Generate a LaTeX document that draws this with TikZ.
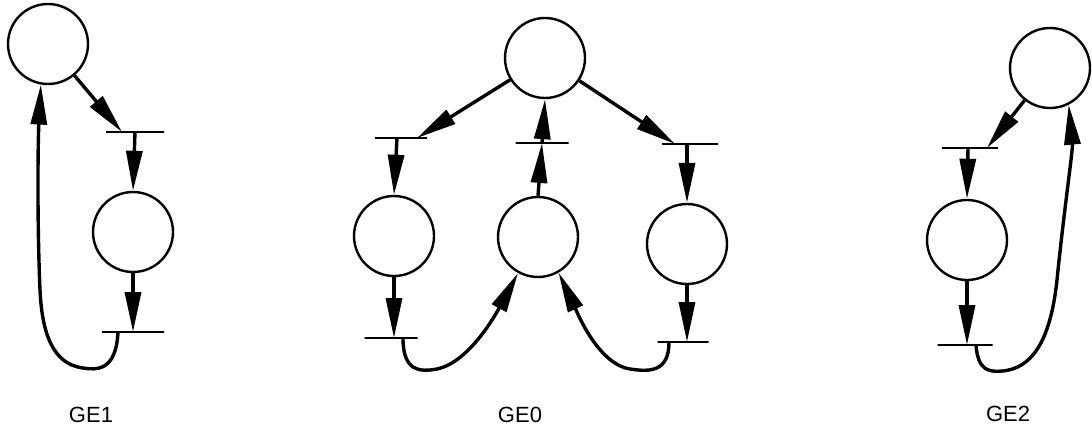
\documentclass[tikz,border=0pt]{standalone}
\usepackage{fontspec}
\setmainfont{Liberation Sans}
\usetikzlibrary{arrows.meta,calc}
\begin{document}
\begin{tikzpicture}[x=1pt,y=-1pt,
  place/.style={circle,draw,line width=2.4pt,minimum size=80pt,inner sep=0pt},
  tbar/.style={draw,line width=2.8pt,minimum height=0pt,inner sep=0pt,minimum width=#1},
  tbar/.default=56pt,
  arc/.style={line width=3.4pt,-{Triangle[length=40pt,width=16pt]}},
  lbl/.style={font=\fontsize{22}{22}\selectfont,inner sep=0pt}]
\useasboundingbox (0,0) rectangle (1092,431);
% ---------- GE1 ----------
\node[place] (p1a) at (48,44) {};
\node[tbar=58pt] (t1a) at (135,132) {};
\node[place] (p1b) at (133,232) {};
\node[tbar=62pt] (t1b) at (133,332) {};
\draw[arc] (p1a) -- ($(t1a.center)+(-13,0)$);
\draw[arc] (t1a.center) -- (p1b.north);
\draw[arc] (p1b.south) -- (t1b.center);
\draw[arc] ($(t1b.center)+(-15,0)$) .. controls (116,372) and (96,370) .. (83,368)
  .. controls (52,364) and (42,332) .. (40,290)
  .. controls (37,220) and (38,140) .. (p1a.-100);
\node[lbl] (l1) at (91,415) {GE1};
% ---------- GE0 ----------
\node[place] (p0t) at (545,58) {};
\node[tbar=52pt] (t0l) at (401,138) {};
\node[tbar=53pt] (t0m) at (542,143) {};
\node[tbar=56pt] (t0r) at (690,144) {};
\node[place] (p0l) at (394,236) {};
\node[place] (p0m) at (538,237) {};
\node[place] (p0r) at (687,244) {};
\node[tbar=53pt] (t0l2) at (391,338) {};
\node[tbar=51pt] (t0r2) at (683,342) {};
\draw[arc] (p0t) -- ($(t0l.center)+(16,0)$);
\draw[arc] (p0t) -- ($(t0r.center)+(-15,0)$);
\draw[arc] ($(t0l.center)+(-4,0)$) -- (p0l.north);
\draw[arc] ($(t0r.center)+(-3,0)$) -- (p0r.north);
\draw[arc] (p0l.south) -- ($(t0l2.center)+(3,0)$);
\draw[arc] (p0r.south) -- ($(t0r2.center)+(4,0)$);
\draw[arc] (p0m.north) -- (t0m.center);
\draw[arc] (t0m.center) -- (p0t.south);
\draw[arc] ($(t0l2.center)+(12,0)$) .. controls (403,372) and (420,372) .. (437,369)
  .. controls (470,362) and (497,312) .. (p0m.-119);
\draw[arc] ($(t0r2.center)+(-14,0)$) .. controls (669,372) and (650,372) .. (630,369)
  .. controls (598,364) and (577,312) .. (p0m.-60);
\node[lbl] (l0) at (520,415) {GE0};
% ---------- GE2 ----------
\node[place] (p2t) at (1050,68) {};
\node[tbar=56pt] (t2a) at (970,148) {};
\node[place] (p2b) at (967,240) {};
\node[tbar=55pt] (t2b) at (965,345) {};
\draw[arc] (p2t) -- ($(t2a.center)+(17,0)$);
\draw[arc] ($(t2a.center)+(-2,0)$) -- (p2b.north);
\draw[arc] (p2b.south) -- ($(t2b.center)+(2,0)$);
\draw[arc] ($(t2b.center)+(11,0)$) .. controls (978,372) and (990,372) .. (1003,371)
  .. controls (1030,368) and (1050,345) .. (1057,280)
  .. controls (1064,210) and (1073,150) .. (p2t.-63);
\node[lbl] (l2) at (1008,414) {GE2};
\end{tikzpicture}
\end{document}
